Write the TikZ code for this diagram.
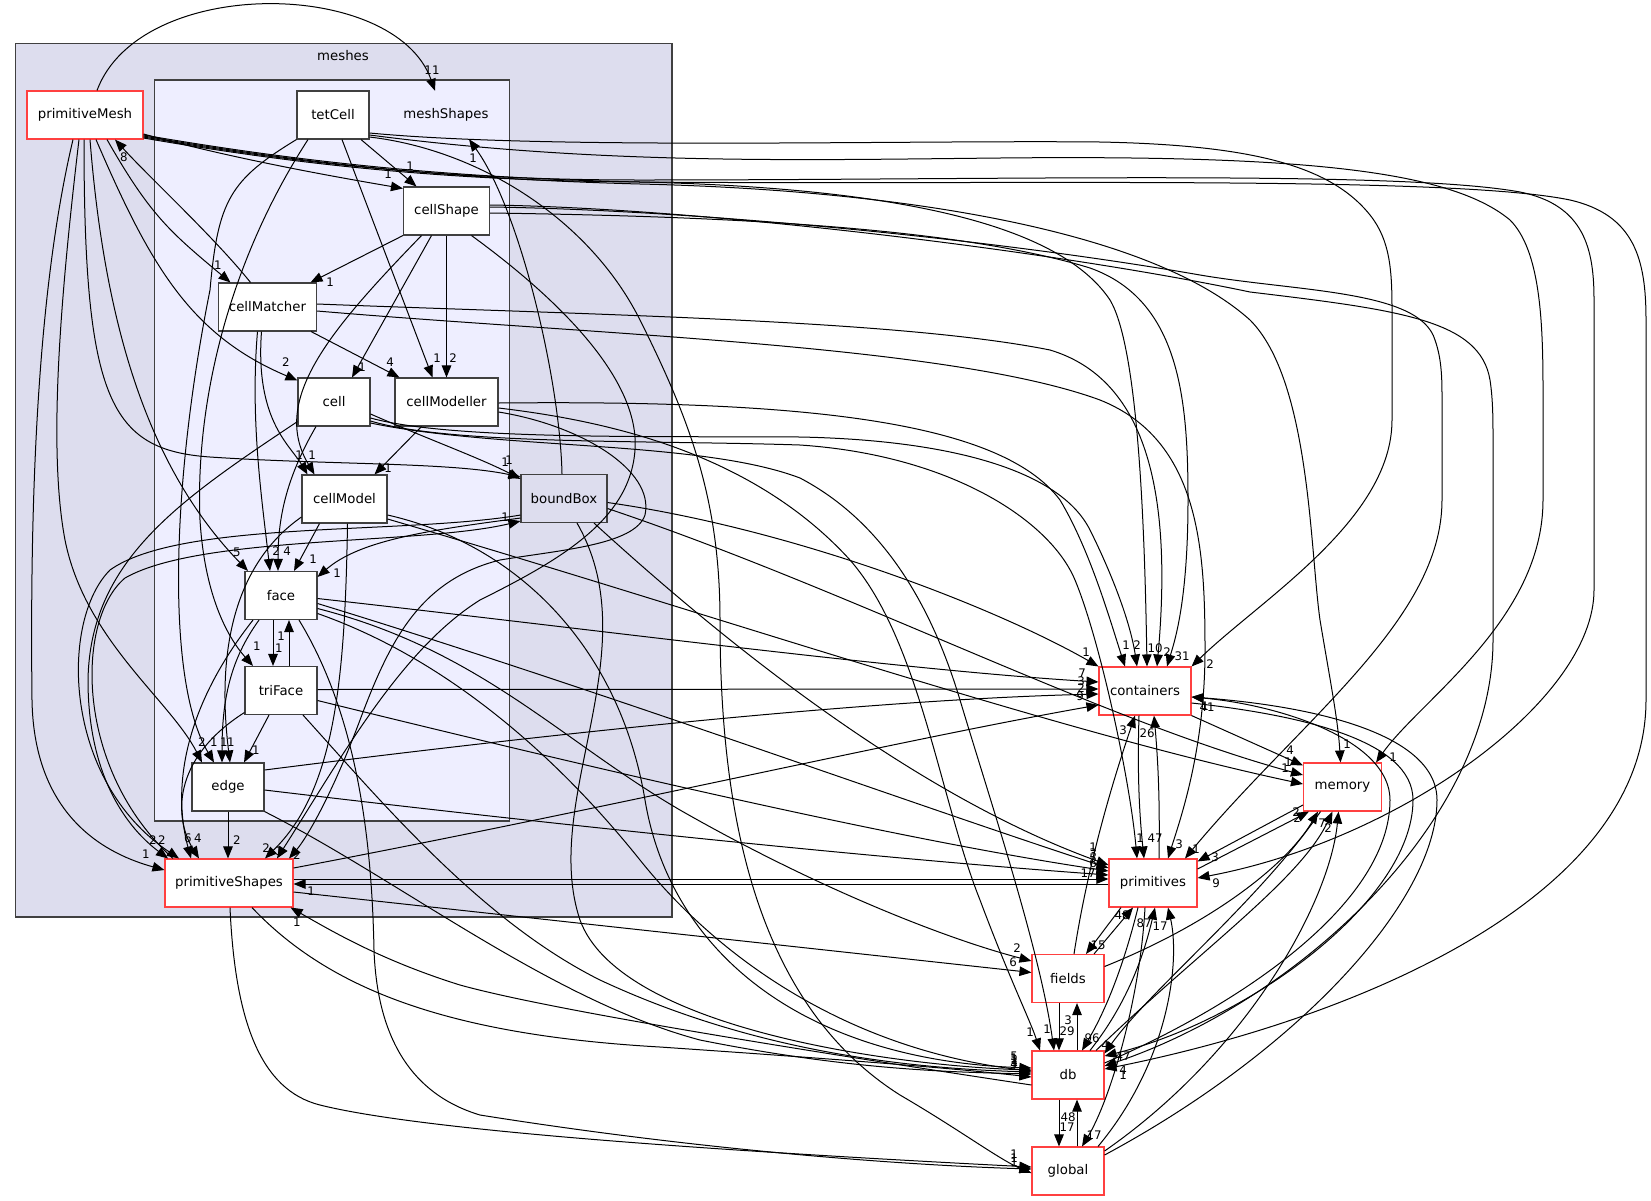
\documentclass[tikz,border=0pt]{standalone}
\usepackage{fontspec}
\setmainfont{DejaVu Sans}
\usepackage{tikz}
\usetikzlibrary{arrows.meta, positioning}
\definecolor{meshfill}{RGB}{221,221,238}
\definecolor{shapefill}{RGB}{238,238,255}
\definecolor{framegray}{RGB}{64,64,64}
\definecolor{extred}{RGB}{255,64,64}
\tikzstyle{dirbox} = [rectangle, minimum width=72pt, minimum height=48pt, inner sep=0pt, text centered, draw=framegray, line width=1.1pt, fill=white, font=\fontsize{13.3}{16}\selectfont]
\tikzstyle{extbox} = [dirbox, draw=extred]
\tikzstyle{cluster} = [draw=framegray, line width=1.1pt]
\tikzstyle{dep} = [line width=1pt, -{Triangle[length=12pt,width=9.5pt]}]
\tikzstyle{cnt} = [inner sep=0pt, font=\fontsize{11.8}{12}\selectfont]

\begin{document}
\begin{tikzpicture}[x=1pt, y=-1pt]
\useasboundingbox (0,0) rectangle (1651,1200);
\draw[cluster, fill=meshfill] (15.7,43.3) rectangle (672,917);
\node (mesheslbl) [font=\fontsize{13.3}{16}\selectfont] at (343,56) {meshes};
\draw[cluster, fill=shapefill] (154.3,80) rectangle (509.3,821);
\node (meshshapes) [minimum width=86pt, minimum height=48pt, inner sep=0pt, font=\fontsize{13.3}{16}\selectfont] at (446,115) {meshShapes};

\node (pmesh) [extbox, minimum width=116pt] at (85,115) {primitiveMesh};
\node (tetcell) [dirbox] at (333,115) {tetCell};
\node (cellshape) [dirbox, minimum width=86pt] at (446.5,211) {cellShape};
\node (cellmatcher) [dirbox, minimum width=98pt] at (267.5,307) {cellMatcher};
\node (cell) [dirbox] at (334,402) {cell};
\node (cellmodeller) [dirbox, minimum width=103pt] at (446.5,402) {cellModeller};
\node (cellmodel) [dirbox, minimum width=85pt] at (344.5,499) {cellModel};
\node (boundbox) [dirbox, minimum width=86pt, fill=meshfill] at (564,498.5) {boundBox};
\node (face) [dirbox] at (281,595.5) {face};
\node (triface) [dirbox] at (281,690.5) {triFace};
\node (edgedir) [dirbox] at (228,787) {edge};
\node (pshapes) [extbox, minimum width=128pt] at (229,883) {primitiveShapes};
\node (containers) [extbox, minimum width=92pt] at (1145,691) {containers};
\node (memory) [extbox, minimum width=78pt] at (1342.5,787) {memory};
\node (primitives) [extbox, minimum width=88pt] at (1153,883) {primitives};
\node (fields) [extbox] at (1068,978.5) {fields};
\node (db) [extbox] at (1068,1075) {db};
\node (global) [extbox] at (1068,1171) {global};

\draw[dep] ([xshift=12pt]pmesh.north) .. controls (140,-25) and (395,-22) .. ([xshift=-11pt]meshshapes.north) node[cnt] at (432,70) {11};
\draw[dep] ([xshift=-2pt]boundbox.north) .. controls (560,380) and (520,210) .. ([xshift=23pt]meshshapes.south) node[cnt] at (473,158) {1};
\draw[dep] ([yshift=-19pt]pmesh.east) .. controls (230,158) and (330,176) .. ([yshift=-2pt]cellshape.north west) node[cnt] at (388,174) {1};
\draw[dep] ([xshift=28pt]tetcell.south) -- ([xshift=-30pt]cellshape.north) node[cnt] at (410,166) {1};
\draw[dep] ([xshift=22pt]pmesh.south) .. controls (150,215) and (170,232) .. ([xshift=-37pt]cellmatcher.north) node[cnt] at (218,265) {1};
\draw[dep] ([xshift=-17pt]cellmatcher.north) .. controls (215,238) and (150,178) .. ([xshift=30pt]pmesh.south) node[cnt] at (124,157) {8};
\draw[dep] (cellshape.south west) -- ([xshift=43pt]cellmatcher.north) node[cnt] at (330,282) {1};
\draw[dep] ([xshift=11pt]pmesh.south) .. controls (150,265) and (190,335) .. ([yshift=-3pt]cell.north west) node[cnt] at (286,362) {2};
\draw[dep] ([xshift=-15pt]cellshape.south) -- ([xshift=18pt]cell.north) node[cnt] at (362,367) {1};
\draw[dep] ([xshift=-6pt]cellmatcher.south east) -- ([xshift=5pt]cellmodeller.north west) node[cnt] at (390,362) {4};
\draw[dep] ([xshift=9pt]tetcell.south) -- ([xshift=-14pt]cellmodeller.north) node[cnt] at (437,358) {1};
\draw[dep] (cellshape.south) -- (cellmodeller.north) node[cnt] at (453,358) {2};
\draw[dep] ([xshift=-6pt]cellmatcher.south) .. controls (255,420) and (290,445) .. ([xshift=-37pt]cellmodel.north) node[cnt] at (299,455) {1};
\draw[dep] ([xshift=-25pt]cellshape.south) .. controls (330,330) and (270,400) .. ([xshift=-30pt]cellmodel.north) node[cnt] at (312,455) {1};
\draw[dep] ([xshift=-25pt]cellmodeller.south) -- ([xshift=30pt]cellmodel.north) node[cnt] at (388,468) {1};
\draw[dep] ([xshift=-1pt]pmesh.south) .. controls (84,400) and (110,450) .. (210,457) .. controls (330,465) and (450,462) .. ([yshift=-3pt]boundbox.north west) node[cnt] at (505,462) {1};
\draw[dep] ([yshift=-12pt]cell.east) .. controls (430,440) and (480,458) .. ([yshift=-5pt]boundbox.north west) node[cnt] at (509,460) {1};
\draw[dep] ([yshift=8pt]boundbox.south west) .. controls (400,535) and (180,520) .. (110,570) .. controls (60,620) and (62,780) .. ([xshift=-50pt]pshapes.north) node[cnt] at (162,840) {2};
\draw[dep] ([xshift=-56pt]pshapes.north) .. controls (75,770) and (75,620) .. (125,578) .. controls (200,535) and (420,545) .. ([yshift=2pt]boundbox.south west) node[cnt] at (505,517) {1};
\draw[dep] ([yshift=5pt]cell.south west) .. controls (180,500) and (90,560) .. (88,680) .. controls (88,780) and (130,830) .. ([xshift=-61pt]pshapes.north) node[cnt] at (153,840) {2};
\draw[dep] ([xshift=5pt]pmesh.south) .. controls (105,330) and (150,470) .. ([xshift=-33pt]face.north) node[cnt] at (237,552) {5};
\draw[dep] ([xshift=-6pt]pmesh.south) .. controls (60,300) and (48,450) .. (65,540) .. controls (85,640) and (170,700) .. ([xshift=-26pt]edgedir.north) node[cnt] at (202,742) {2};
\draw[dep] ([xshift=-12pt]pmesh.south) .. controls (35,300) and (30,520) .. (32,700) .. controls (34,820) and (110,855) .. ([yshift=13pt]pshapes.west) node[cnt] at (146,854) {1};
\draw[dep] (tetcell.south west) .. controls (230,180) and (218,200) .. (210,290) .. controls (172,480) and (165,680) .. ([xshift=-14pt]edgedir.north) node[cnt] at (214,742) {1};
\draw[dep] ([xshift=-25pt]tetcell.south) .. controls (230,260) and (195,400) .. (200,520) .. controls (205,600) and (230,640) .. ([xshift=-28pt]triface.north) node[cnt] at (257,646) {1};
\draw[dep] ([xshift=25pt]cellshape.south) .. controls (560,300) and (640,380) .. (635,450) .. controls (630,520) and (560,560) .. (480,600) .. controls (400,650) and (340,760) .. ([xshift=48pt]pshapes.north) node[cnt] at (279,851) {1};
\draw[dep] ([yshift=-10pt]cellmodeller.east) .. controls (580,425) and (655,470) .. (645,515) .. controls (635,545) and (560,550) .. (500,560) .. controls (420,580) and (390,640) .. (360,720) .. controls (330,800) and (305,840) .. ([xshift=60pt]pshapes.north) node[cnt] at (297,855) {2};
\draw[dep] ([xshift=3pt]cellmodel.south) .. controls (345,680) and (335,790) .. ([xshift=36pt]pshapes.north) node[cnt] at (266,848) {2};
\draw[dep] ([xshift=-18pt]cell.south) .. controls (285,480) and (278,520) .. ([xshift=-3pt]face.north) node[cnt] at (287,551) {4};
\draw[dep] ([xshift=-10pt]cellmatcher.south) .. controls (250,420) and (262,500) .. ([xshift=-11pt]face.north) node[cnt] at (276,551) {2};
\draw[dep] ([xshift=-25pt]cellmodel.south) -- ([xshift=13pt]face.north) node[cnt] at (313,559) {1};
\draw[dep] ([yshift=5pt]boundbox.south west) .. controls (430,530) and (360,540) .. ([yshift=-6pt]face.north east) node[cnt] at (337,573) {1};
\draw[dep] ([xshift=-8pt]face.south) -- ([xshift=-8pt]triface.north) node[cnt] at (279,648) {1};
\draw[dep] ([xshift=8pt]triface.north) -- ([xshift=8pt]face.south) node[cnt] at (281,636) {1};
\draw[dep] ([xshift=-22pt]face.south) .. controls (230,660) and (222,700) .. ([xshift=-6pt]edgedir.north) node[cnt] at (224,742) {1};
\draw[dep] ([yshift=-18pt]cellmodel.west) .. controls (240,560) and (215,640) .. ([xshift=2pt]edgedir.north) node[cnt] at (231,742) {1};
\draw[dep] ([xshift=-12pt]triface.south) -- ([xshift=16pt]edgedir.north) node[cnt] at (256,750) {1};
\draw[dep] ([xshift=-28pt]face.south) .. controls (190,700) and (170,780) .. ([xshift=-38pt]pshapes.north) node[cnt] at (188,838) {6};
\draw[dep] ([yshift=-22pt]triface.west) .. controls (170,760) and (175,820) .. ([xshift=-30pt]pshapes.north) node[cnt] at (198,838) {4};
\draw[dep] (edgedir.south) -- ([xshift=-1pt]pshapes.north) node[cnt] at (237,840) {2};

\draw[dep] ([yshift=-20pt]pmesh.east) .. controls (300,162) and (450,178) .. (640,182) .. controls (900,188) and (1060,225) .. (1110,300) .. controls (1140,350) and (1145,550) .. ([xshift=2pt]containers.north) node[cnt] at (1155,648) {10};
\draw[dep] ([yshift=-21pt]pmesh.east) .. controls (300,163) and (450,179) .. (640,184) .. controls (900,190) and (1150,230) .. (1250,320) .. controls (1310,380) and (1310,550) .. (1320,620) .. controls (1330,680) and (1338,720) .. ([xshift=-2pt]memory.north) node[cnt] at (1347,744) {1};
\draw[dep] ([yshift=-22pt]pmesh.east) .. controls (300,164) and (450,180) .. (640,180) .. controls (1000,180) and (1400,170) .. (1520,192) .. controls (1585,205) and (1594,250) .. (1594,300) -- (1594,590) .. controls (1594,700) and (1400,840) .. ([yshift=5pt]primitives.east) node[cnt] at (1216,883) {9};
\draw[dep] ([yshift=-23pt]pmesh.east) .. controls (300,165) and (450,181) .. (640,182) .. controls (1000,185) and (1450,175) .. (1570,200) .. controls (1635,215) and (1646,260) .. (1646,320) -- (1646,700) .. controls (1646,900) and (1350,1020) .. ([yshift=6pt]db.east) node[cnt] at (1123,1075) {1};
\draw[dep] ([yshift=-18pt]tetcell.east) .. controls (550,150) and (900,140) .. (1100,142) .. controls (1250,145) and (1330,165) .. (1370,215) .. controls (1390,240) and (1392,270) .. (1392,310) -- (1392,420) .. controls (1392,520) and (1260,600) .. (containers.north east) node[cnt] at (1210,664) {2};
\draw[dep] ([yshift=-20pt]tetcell.east) .. controls (600,165) and (800,160) .. (1000,158) .. controls (1300,155) and (1450,170) .. (1510,220) .. controls (1540,250) and (1543,320) .. (1543,390) -- (1543,500) .. controls (1543,620) and (1420,700) .. ([xshift=-6pt]memory.north east) node[cnt] at (1393,757) {1};
\draw[dep] ([yshift=-22pt]tetcell.east) .. controls (480,150) and (590,220) .. (640,320) .. controls (690,420) and (720,500) .. (720,620) .. controls (720,800) and (750,1000) .. (900,1095) .. controls (960,1130) and (1000,1160) .. ([yshift=-2pt]global.west) node[cnt] at (1014,1162) {1};
\draw[dep] ([yshift=-2pt]cellshape.east) .. controls (700,216) and (950,225) .. (1090,268) .. controls (1180,300) and (1188,400) .. (1188,500) .. controls (1188,600) and (1175,640) .. ([xshift=22pt]containers.north) node[cnt] at (1182,656) {31};
\draw[dep] ([yshift=4pt]cellshape.east) .. controls (700,210) and (1000,240) .. (1200,275) .. controls (1300,292) and (1420,290) .. (1435,340) .. controls (1442,360) and (1442,380) .. (1442,400) -- (1442,500) .. controls (1442,620) and (1300,720) .. ([xshift=32pt]primitives.north) node[cnt] at (1196,849) {1};
\draw[dep] ([yshift=6pt]cellshape.east) .. controls (700,208) and (1050,250) .. (1250,292) .. controls (1400,310) and (1480,320) .. (1490,380) .. controls (1493,400) and (1493,420) .. (1493,440) -- (1493,640) .. controls (1493,820) and (1300,1000) .. ([yshift=9pt]db.east) node[cnt] at (1123,1070) {4};
\draw[dep] ([yshift=3pt]cellmatcher.east) .. controls (600,315) and (900,320) .. (1050,350) .. controls (1150,380) and (1172,500) .. ([xshift=12pt]containers.north) node[cnt] at (1167,652) {2};
\draw[dep] ([yshift=-4pt]cellmatcher.east) .. controls (600,335) and (950,345) .. (1100,400) .. controls (1200,440) and (1205,550) .. (1205,650) .. controls (1205,750) and (1180,820) .. ([xshift=15pt]primitives.north) node[cnt] at (1179,844) {3};
\draw[dep] ([yshift=-16pt]cell.east) .. controls (450,440) and (650,436) .. (800,437) .. controls (950,440) and (1060,470) .. (1090,530) .. controls (1110,570) and (1130,620) .. ([xshift=-8pt]containers.north) node[cnt] at (1137,645) {2};
\draw[dep] ([yshift=-19pt]cell.east) .. controls (450,445) and (650,440) .. (800,445) .. controls (950,455) and (1050,520) .. (1075,580) .. controls (1100,640) and (1130,780) .. ([xshift=-16pt]primitives.north) node[cnt] at (1140,838) {1};
\draw[dep] ([yshift=-21pt]cell.east) .. controls (500,450) and (700,440) .. (800,478) .. controls (880,520) and (930,600) .. (960,700) .. controls (990,800) and (1040,950) .. ([xshift=-14pt]db.north) node[cnt] at (1047,1029) {1};
\draw[dep] ([yshift=-1pt]cellmodeller.east) .. controls (800,400) and (1000,420) .. (1060,500) .. controls (1090,550) and (1110,620) .. ([xshift=-20pt]containers.north) node[cnt] at (1126,645) {1};
\draw[dep] ([yshift=-6pt]cellmodeller.east) .. controls (600,420) and (750,450) .. (850,560) .. controls (920,640) and (940,800) .. (980,900) .. controls (1010,980) and (1030,1020) .. ([xshift=-28pt]db.north) node[cnt] at (1030,1032) {1};
\draw[dep] ([yshift=-4pt]boundbox.east) .. controls (800,530) and (1000,610) .. (containers.north west) node[cnt] at (1086,652) {1};
\draw[dep] ([yshift=-10pt]boundbox.east) .. controls (850,590) and (1100,720) .. ([yshift=12pt]memory.west) node[cnt] at (1288,762) {1};
\draw[dep] ([xshift=30pt]boundbox.south) .. controls (700,620) and (900,790) .. ([yshift=18pt]primitives.west) node[cnt] at (1093,847) {1};
\draw[dep] ([xshift=13pt]boundbox.south) .. controls (650,650) and (540,800) .. (580,920) .. controls (620,1030) and (900,1066) .. ([yshift=5pt]db.west) node[cnt] at (1014,1060) {1};
\draw[dep] ([yshift=-20pt]cellmodel.east) .. controls (700,610) and (1050,730) .. ([yshift=3pt]memory.west) node[cnt] at (1285,768) {1};
\draw[dep] ([yshift=-16pt]cellmodel.east) .. controls (520,545) and (620,650) .. (645,800) .. controls (670,950) and (800,1060) .. ([yshift=7pt]db.west) node[cnt] at (1014,1056) {5};
\draw[dep] ([yshift=-3pt]face.east) .. controls (600,630) and (900,670) .. ([yshift=9pt]containers.west) node[cnt] at (1082,673) {7};
\draw[dep] ([yshift=-8pt]face.east) .. controls (600,690) and (900,800) .. ([yshift=15pt]primitives.west) node[cnt] at (1093,853) {3};
\draw[dep] ([yshift=-13pt]face.east) .. controls (480,650) and (560,740) .. (680,810) .. controls (820,890) and (950,940) .. ([yshift=-7pt]fields.north west) node[cnt] at (1017,948) {2};
\draw[dep] ([yshift=-18pt]face.east) .. controls (450,660) and (560,760) .. (640,860) .. controls (720,960) and (850,1050) .. ([yshift=4pt]db.west) node[cnt] at (1014,1058) {1};
\draw[dep] ([xshift=18pt]face.south) .. controls (360,720) and (372,850) .. (374,950) .. controls (378,1060) and (430,1100) .. (480,1115) .. controls (700,1150) and (900,1165) .. ([yshift=2pt]global.west) node[cnt] at (1014,1158) {1};
\draw[dep] ([yshift=1pt]triface.east) -- ([yshift=2pt]containers.west) node[cnt] at (1081,681) {3};
\draw[dep] ([yshift=-10pt]triface.east) .. controls (600,770) and (900,840) .. ([yshift=12pt]primitives.west) node[cnt] at (1093,858) {5};
\draw[dep] ([xshift=22pt]triface.south) .. controls (380,800) and (480,920) .. (600,980) .. controls (750,1050) and (900,1068) .. ([yshift=3pt]db.west) node[cnt] at (1014,1062) {3};
\draw[dep] ([yshift=17pt]edgedir.east) .. controls (500,740) and (850,700) .. ([yshift=-3pt]containers.west) node[cnt] at (1081,688) {2};
\draw[dep] ([yshift=-3pt]edgedir.east) .. controls (600,830) and (900,860) .. ([yshift=8pt]primitives.west) node[cnt] at (1093,863) {6};
\draw[dep] (edgedir.south east) .. controls (400,880) and (550,1000) .. (700,1040) .. controls (850,1070) and (950,1072) .. ([yshift=1pt]db.west) node[cnt] at (1014,1064) {4};
\draw[dep] ([yshift=15pt]pshapes.east) .. controls (600,810) and (900,740) .. ([yshift=-14pt]containers.west) node[cnt] at (1080,696) {9};
\draw[dep] ([yshift=4pt]pshapes.east) -- ([yshift=4pt]primitives.west) node[cnt] at (1088,873) {17};
\draw[dep] ([yshift=-1pt]primitives.west) -- ([yshift=-1pt]pshapes.east) node[cnt] at (311,891) {1};
\draw[dep] ([yshift=-9pt]pshapes.east) -- ([yshift=6pt]fields.west) node[cnt] at (1013,962) {6};
\draw[dep] ([xshift=23pt]pshapes.south) .. controls (330,990) and (450,1035) .. (660,1047) .. controls (850,1060) and (950,1068) .. ([yshift=-2pt]db.west) node[cnt] at (1014,1066) {1};
\draw[dep] ([yshift=-10pt]db.west) .. controls (800,1050) and (550,1010) .. (460,985) .. controls (380,960) and (330,930) .. ([xshift=-3pt]pshapes.south east) node[cnt] at (297,922) {1};
\draw[dep] ([xshift=1pt]pshapes.south) .. controls (235,1020) and (260,1090) .. (320,1105) .. controls (420,1130) and (700,1150) .. ([yshift=4pt]global.west) node[cnt] at (1014,1154) {1};

\draw[dep] (containers.south east) -- ([yshift=-3pt]memory.north west) node[cnt] at (1290,750) {4};
\draw[dep] ([xshift=-6pt]containers.south) .. controls (1137,780) and (1140,820) .. ([xshift=-9pt]primitives.north) node[cnt] at (1155,838) {47};
\draw[dep] ([xshift=6pt]primitives.north) .. controls (1160,800) and (1158,760) .. ([xshift=9pt]containers.south) node[cnt] at (1147,733) {26};
\draw[dep] ([xshift=6pt]fields.north) .. controls (1090,850) and (1120,760) .. ([xshift=-10pt]containers.south) node[cnt] at (1123,730) {3};
\draw[dep] ([yshift=-12pt]containers.east) .. controls (1300,715) and (1413,740) .. (1413,800) .. controls (1413,900) and (1250,1020) .. ([yshift=19pt]db.east) node[cnt] at (1123,1056) {47};
\draw[dep] ([yshift=12pt]db.east) .. controls (1250,1000) and (1390,900) .. (1390,800) .. controls (1390,740) and (1280,705) .. ([yshift=-6pt]containers.east) node[cnt] at (1207,707) {41};
\draw[dep] ([yshift=16pt]global.east) .. controls (1300,1050) and (1437,900) .. (1437,800) .. controls (1437,730) and (1300,705) .. ([yshift=-6pt]containers.east) node[cnt] at (1205,706) {1};
\draw[dep] ([yshift=14pt]primitives.east) -- ([xshift=6pt]memory.south west) node[cnt] at (1296,812) {2};
\draw[dep] ([yshift=-18pt]memory.west) -- ([yshift=-3pt]primitives.north east) node[cnt] at (1215,857) {3};
\draw[dep] ([yshift=12pt]fields.east) .. controls (1220,920) and (1290,860) .. ([xshift=15pt]memory.south west) node[cnt] at (1297,818) {2};
\draw[dep] ([xshift=28pt]db.north) .. controls (1200,950) and (1300,880) .. ([xshift=-10pt]memory.south) node[cnt] at (1322,823) {7};
\draw[dep] ([yshift=20pt]global.east) .. controls (1250,1050) and (1330,900) .. ([xshift=-4pt]memory.south) node[cnt] at (1328,828) {2};
\draw[dep] ([xshift=-22pt]memory.south) .. controls (1260,900) and (1150,990) .. ([yshift=-3pt]db.north east) node[cnt] at (1105,1045) {4};
\draw[dep] ([xshift=-15pt]primitives.south) .. controls (1120,980) and (1100,1020) .. ([xshift=14pt]db.north) node[cnt] at (1092,1038) {96};
\draw[dep] ([xshift=22pt]db.north) .. controls (1130,1000) and (1145,950) .. ([xshift=2pt]primitives.south) node[cnt] at (1144,923) {87};
\draw[dep] ([xshift=30pt]global.north) .. controls (1170,1060) and (1180,960) .. ([xshift=15pt]primitives.south) node[cnt] at (1160,926) {17};
\draw[dep] ([xshift=-8pt]primitives.south) .. controls (1140,1000) and (1110,1100) .. ([xshift=14pt]global.north) node[cnt] at (1094,1135) {17};
\draw[dep] ([xshift=-32pt]primitives.south) -- ([xshift=18pt]fields.north) node[cnt] at (1098,945) {15};
\draw[dep] ([xshift=26pt]fields.north) -- ([xshift=-20pt]primitives.south) node[cnt] at (1122,915) {48};
\draw[dep] ([xshift=-9pt]fields.south) -- ([xshift=-9pt]db.north) node[cnt] at (1067,1031) {29};
\draw[dep] ([xshift=9pt]db.north) -- ([xshift=9pt]fields.south) node[cnt] at (1068,1020) {3};
\draw[dep] ([xshift=-9pt]db.south) -- ([xshift=-9pt]global.north) node[cnt] at (1067,1127) {17};
\draw[dep] ([xshift=9pt]global.north) -- ([xshift=9pt]db.south) node[cnt] at (1068,1117) {48};
\end{tikzpicture}
\end{document}
